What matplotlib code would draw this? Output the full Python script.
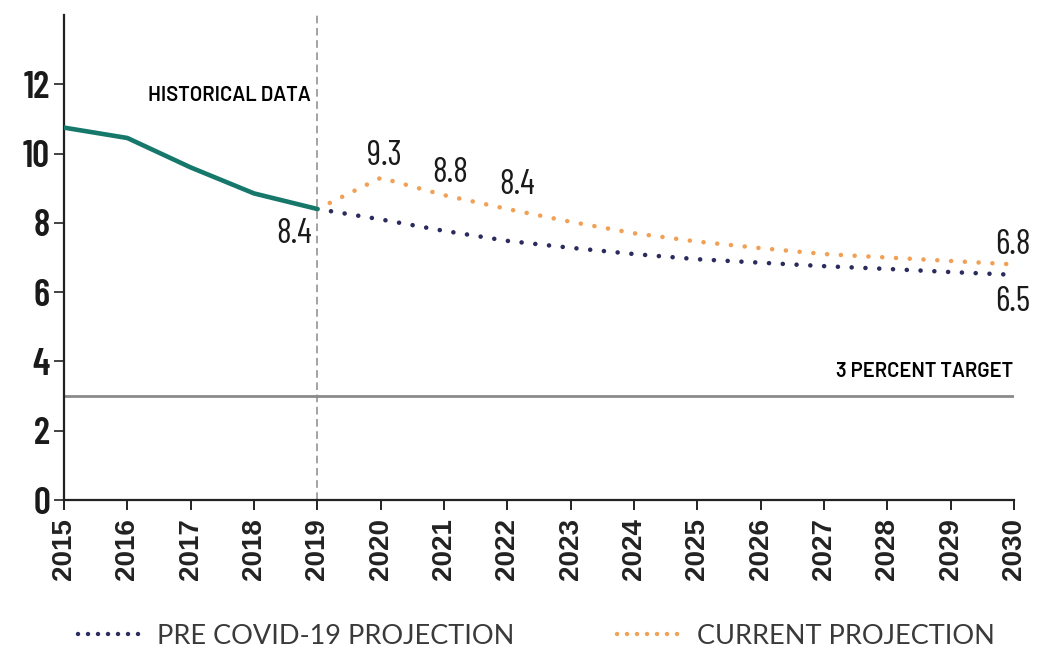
import matplotlib
matplotlib.use("Agg")
import matplotlib.pyplot as plt
from matplotlib.lines import Line2D

# values
hist_years = [2015, 2016, 2017, 2018, 2019]
hist_vals = [10.75, 10.45, 9.6, 8.85, 8.4]

proj_years = list(range(2019, 2031))
current_vals = [8.4, 9.3, 8.8, 8.4, 8.03, 7.7, 7.46, 7.27, 7.1, 7.0, 6.9, 6.8]
pre_covid_vals = [8.4, 8.1, 7.77, 7.48, 7.28, 7.1, 6.95, 6.85, 6.75, 6.67, 6.58, 6.5]

target = 3
x_ticks = list(range(2015, 2031))
y_ticks = [0, 2, 4, 6, 8, 10, 12]

teal = "#16786a"
orange = "#f0a155"
navy = "#2b2b5e"
narrow = ["Barlow Condensed", "Roboto Condensed", "Archivo Narrow",
          "IBM Plex Sans Condensed", "DejaVu Sans"]
wide = ["Barlow", "Barlow Semi Condensed", "Barlow Condensed", "DejaVu Sans"]

fig = plt.figure(figsize=(10.39, 6.53), dpi=100)
ax = fig.add_axes([0.0616, 0.2343, 0.9145, 0.7427])

ax.plot(hist_years, hist_vals, color=teal, lw=3.3, solid_capstyle="round", zorder=4)
dots = (0, (0.01, 3.0))
ax.plot(proj_years, pre_covid_vals, color=navy, lw=3.3, linestyle=dots,
        dash_capstyle="round", zorder=3)
ax.plot(proj_years, current_vals, color=orange, lw=3.3, linestyle=dots,
        dash_capstyle="round", zorder=3)

ax.axhline(target, color="#8a8a8a", lw=2, zorder=2)
ax.axvline(2019, color="#8a8a8a", lw=1.1, linestyle=(0, (5, 3)), zorder=1)

ax.set_xlim(2015, 2030)
ax.set_ylim(0, 14)
ax.set_xticks(x_ticks)
ax.set_yticks(y_ticks)
for s in ["top", "right"]:
    ax.spines[s].set_visible(False)
for s in ["left", "bottom"]:
    ax.spines[s].set_linewidth(1.6)
    ax.spines[s].set_color("#222222")
ax.tick_params(axis="x", length=7, width=1.4, pad=6, colors="#222222")
ax.tick_params(axis="y", length=7, width=1.2, pad=3, colors="#222222")
ax.set_xticklabels([str(y) for y in x_ticks], rotation=90, fontsize=20,
                   fontweight="bold", family=["Liberation Sans", "DejaVu Sans"])
ax.set_yticklabels([str(v) for v in y_ticks], fontsize=27, fontweight="semibold",
                   family=narrow, color="#1a1a1a")

ax.text(2018.9, 11.68, "HISTORICAL DATA", ha="right", va="center",
        fontsize=14.5, fontweight="semibold", family=wide)
ax.text(2029.98, 3.7, "3 PERCENT TARGET", ha="right", va="center",
        fontsize=14.5, fontweight="semibold", family=wide)

ann = dict(fontsize=25, family=narrow, color="#1a1a1a")
ax.text(2018.92, hist_vals[-1] - 0.72, f"{hist_vals[-1]}", ha="right", va="center", **ann)
ax.text(2020.05, current_vals[1] + 0.62, f"{current_vals[1]:.1f}", ha="center", va="center", **ann)
ax.text(2021.1, current_vals[2] + 0.65, f"{current_vals[2]:.1f}", ha="center", va="center", **ann)
ax.text(2022.15, current_vals[3] + 0.7, f"{current_vals[3]:.1f}", ha="center", va="center", **ann)
ax.text(2029.98, current_vals[-1] + 0.57, f"{current_vals[-1]:.1f}", ha="center", va="center", **ann)
ax.text(2029.98, pre_covid_vals[-1] - 0.78, f"{pre_covid_vals[-1]:.1f}", ha="center", va="center", **ann)

leg_dots = (0, (0.01, 2.24))
handles = [Line2D([], [], color=navy, lw=3.2, linestyle=leg_dots, dash_capstyle="round"),
           Line2D([], [], color=orange, lw=3.2, linestyle=leg_dots, dash_capstyle="round")]
labels = ["PRE COVID-19 PROJECTION", "CURRENT PROJECTION"]
leg = fig.legend(handles, labels, loc="center", bbox_to_anchor=(0.516, 0.026), ncol=2,
                 frameon=False, prop={"family": ["Lato", "DejaVu Sans"], "size": 19.5},
                 handlelength=2.3, handletextpad=0.63, columnspacing=3.8)
for t in leg.get_texts():
    t.set_color("#3a3a3a")

fig.savefig("out.png", dpi=100)
